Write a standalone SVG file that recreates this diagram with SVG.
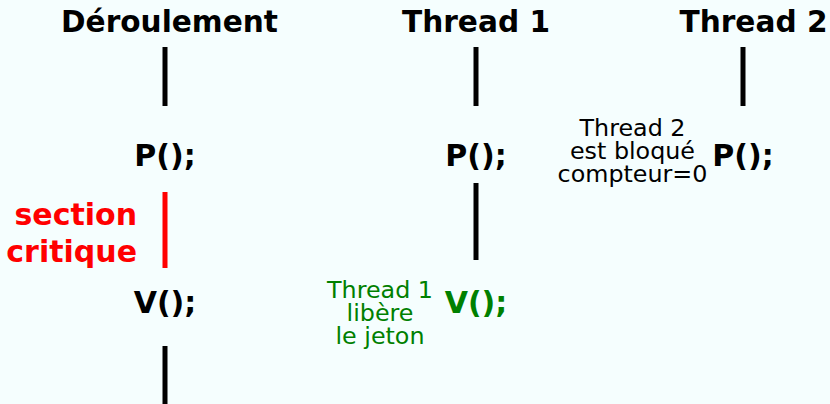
<svg xmlns="http://www.w3.org/2000/svg" width="830" height="404" viewBox="0 0 830 404">
  <style>
    .title { font-family: "DejaVu Sans", sans-serif; font-weight: bold; font-size: 29.6px; fill: #000; text-anchor: middle; }
    .op { font-family: "DejaVu Sans", sans-serif; font-weight: bold; font-size: 30px; text-anchor: middle; }
    .note { font-family: "DejaVu Sans", sans-serif; font-size: 23.8px; text-anchor: middle; }
    .red { fill: #ff0000; }
    .green { fill: #008000; }
    .black { fill: #000; }
    .line { stroke: #000; stroke-width: 5; fill: none; }
    .line-red { stroke: #ff0000; stroke-width: 5; fill: none; }
  </style>
  <rect x="0" y="0" width="830" height="404" fill="#f5fefe"/>

  <!-- timeline segments -->
  <g id="connectors">
    <line class="line" x1="165" y1="47" x2="165" y2="106"/>
    <line class="line-red" x1="165" y1="192" x2="165" y2="268"/>
    <line class="line" x1="165" y1="346" x2="165" y2="404"/>
    <line class="line" x1="476" y1="47" x2="476" y2="106"/>
    <line class="line" x1="476" y1="183" x2="476" y2="260"/>
    <line class="line" x1="743" y1="47" x2="743" y2="106"/>
  </g>

  <g id="col-deroulement">
    <text class="title" x="169.5" y="32">Déroulement</text>
    <text class="op black" x="165" y="166">P();</text>
    <text class="op red" x="137" y="225" style="text-anchor:end">section</text>
    <text class="op red" x="137" y="262" style="text-anchor:end">critique</text>
    <text class="op black" x="165" y="313">V();</text>
  </g>

  <g id="col-thread1">
    <text class="title" x="476" y="32">Thread 1</text>
    <text class="op black" x="476" y="166">P();</text>
    <text class="op green" x="476" y="313">V();</text>
    <text class="note green" x="380" y="298">Thread 1</text>
    <text class="note green" x="380" y="321">libère</text>
    <text class="note green" x="380" y="344">le jeton</text>
  </g>

  <g id="col-thread2">
    <text class="title" x="753.5" y="32">Thread 2</text>
    <text class="op black" x="743" y="166">P();</text>
    <text class="note black" x="632.5" y="136">Thread 2</text>
    <text class="note black" x="632.5" y="159">est bloqué</text>
    <text class="note black" x="632.5" y="182">compteur=0</text>
  </g>
</svg>
